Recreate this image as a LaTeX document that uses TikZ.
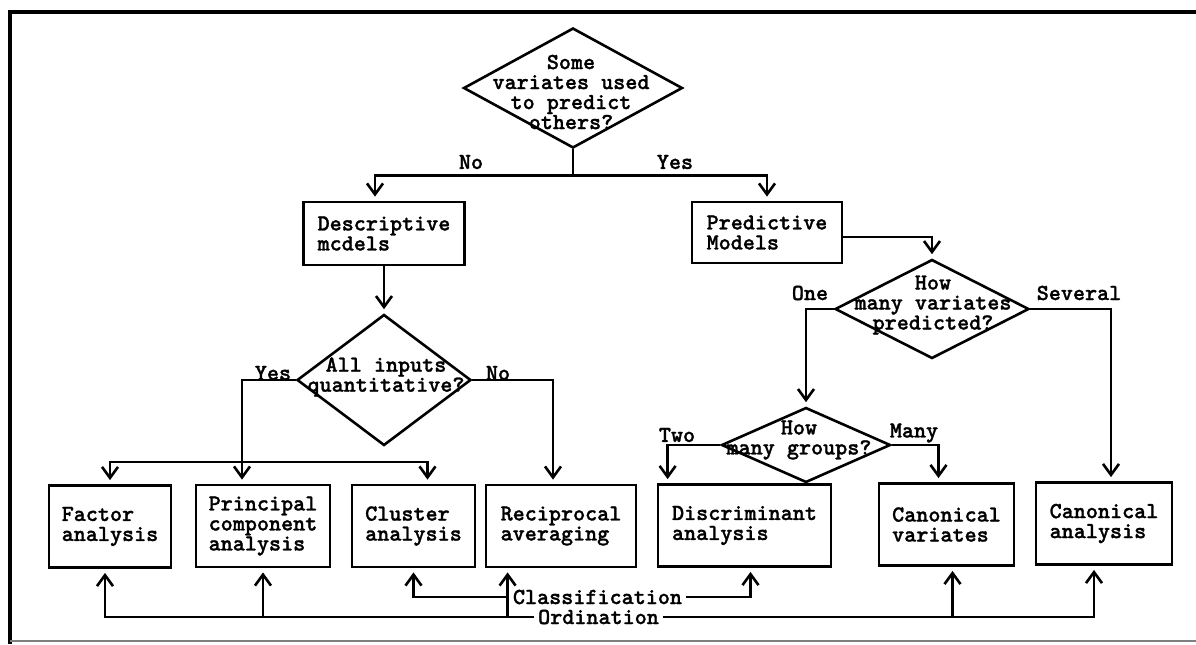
\documentclass[tikz,border=0pt]{standalone}
\usepackage{fontspec}
\usepackage{tikz}
\usetikzlibrary{arrows.meta, shapes.geometric}
\newfontfamily\flowfont{lmmonolt10-bold.otf}[FakeBold=1.2]
\tikzset{
  box/.style={draw, line width=1.4pt, align=left, minimum height=41pt, inner sep=2pt},
  dec/.style={draw, diamond, line width=1.3pt, inner sep=0pt},
  qtext/.style={align=center, inner sep=0pt},
  lbl/.style={inner sep=1pt},
  tag/.style={inner sep=1.5pt},
  conn/.style={->, shorten >=2pt},
}

\begin{document}
\begin{tikzpicture}[x=0.5pt, y=-0.5pt, >={Straight Barb[length=5.5pt,width=8pt]}, line width=1.3pt,
    font=\fontsize{11.5}{10}\selectfont\flowfont]
  \useasboundingbox (0,0) rectangle (1196,644);

  % Frame
  \draw[line width=1.6pt] (1196,12) -- (10,12) -- (10,644);
  \draw[gray, line width=0.8pt] (10,641) -- (1196,641);

  % Questions
  \node[dec, minimum width=109.5pt, minimum height=60pt] (q1) at (573,88) {};
  \node[qtext] (q1t) at (571,92) {Some\\variates used\\to predict\\others?};
  \node[dec, minimum width=87pt, minimum height=65.5pt] (q2) at (384,380) {};
  \node[qtext] (q2t) at (386,377) {All inputs\\quantitative?};
  \node[dec, minimum width=97pt, minimum height=49.5pt] (q3) at (932,309) {};
  \node[qtext] (q3t) at (933,305) {How\\many variates\\predicted?};
  \node[dec, minimum width=84.5pt, minimum height=37.5pt] (q4) at (806,445) {};
  \node[qtext] (q4t) at (799,440) {How\\many groups?};

  % Models
  \node[box, minimum width=80.5pt, minimum height=31.5pt] (desc) at (384,233.5) {Descriptive\\mcdels};
  \node[box, minimum width=75pt, minimum height=30.5pt] (pred) at (767,232.5) {Predictive\\Models};

  % Methods
  \node[box, minimum width=61pt] (factor) at (110,526.5) {Factor\\analysis};
  \node[box, minimum width=67pt] (pca) at (263,526) {Principal\\component\\analysis};
  \node[box, minimum width=61.5pt] (cluster) at (413.5,526) {Cluster\\analysis};
  \node[box, minimum width=75pt] (recip) at (561,526) {Reciprocal\\averaging};
  \node[box, minimum width=86.5pt] (discr) at (744.5,525.5) {Discriminant\\analysis};
  \node[box, minimum width=67.5pt] (canvar) at (946.5,524.5) {Canonical\\variates};
  \node[box, minimum width=68pt] (canan) at (1104,523.5) {Canonical\\analysis};

  % Answers
  \node[lbl] (no1) at (471,162) {No};
  \node[lbl] (yes1) at (675,162) {Yes};
  \node[lbl] (yes2) at (273,373) {Yes};
  \node[lbl] (no2) at (498,373) {No};
  \node[lbl] (one) at (810,293) {One};
  \node[lbl] (several) at (1079,293) {Several};
  \node[lbl] (two) at (677,435) {Two};
  \node[lbl] (many) at (914,433) {Many};

  % Groupings
  \node[tag] (cls) at (597.5,597) {Classification};
  \node[tag] (ord) at (598.5,617) {Ordination};

  % Top split
  \draw (q1.south) -- ++(0,26) coordinate (j1);
  \draw[conn] (j1) -| ([xshift=-4.5pt]desc.north);
  \draw[conn] (j1) -| (pred.north);

  % Descriptive side
  \draw[conn] (desc.south) -- (q2.north);
  \draw[conn] (q2.west) -| ([xshift=-10.5pt]pca.north);
  \coordinate (j2) at (242,462);
  \draw[conn] (j2) -| (factor.north);
  \draw[conn] (j2) -| ([xshift=7pt]cluster.north);
  \draw[conn] (q2.east) -| ([xshift=-4pt]recip.north);

  % Predictive side
  \draw[conn] ([yshift=-2.25pt]pred.east) -| (q3.north);
  \draw[conn] (q3.west) -| (q4.north);
  \draw[conn] (q3.east) -| ([xshift=3.5pt]canan.north);
  \draw[conn] (q4.west) -| ([xshift=5.5pt]discr.north west);
  \draw[conn] (q4.east) -| ([xshift=-4pt]canvar.north);

  % Classification
  \draw[conn] (cls.west) -| (cluster.south);
  \draw[conn] (cls.east) -| ([xshift=3pt]discr.south);

  % Ordination
  \coordinate (rb) at ([xshift=11.5pt]recip.south west);
  \coordinate (cvb) at ([xshift=3pt]canvar.south);
  \draw[conn] (ord.west) -| ([xshift=-2.5pt]factor.south);
  \draw[conn] (ord.west -| pca.south) -- (pca.south);
  \draw[conn] (ord.west -| rb) -- (rb);
  \draw[conn] (ord.east) -| ([xshift=-5pt]canan.south);
  \draw[conn] (ord.east -| cvb) -- (cvb);
\end{tikzpicture}
\end{document}
